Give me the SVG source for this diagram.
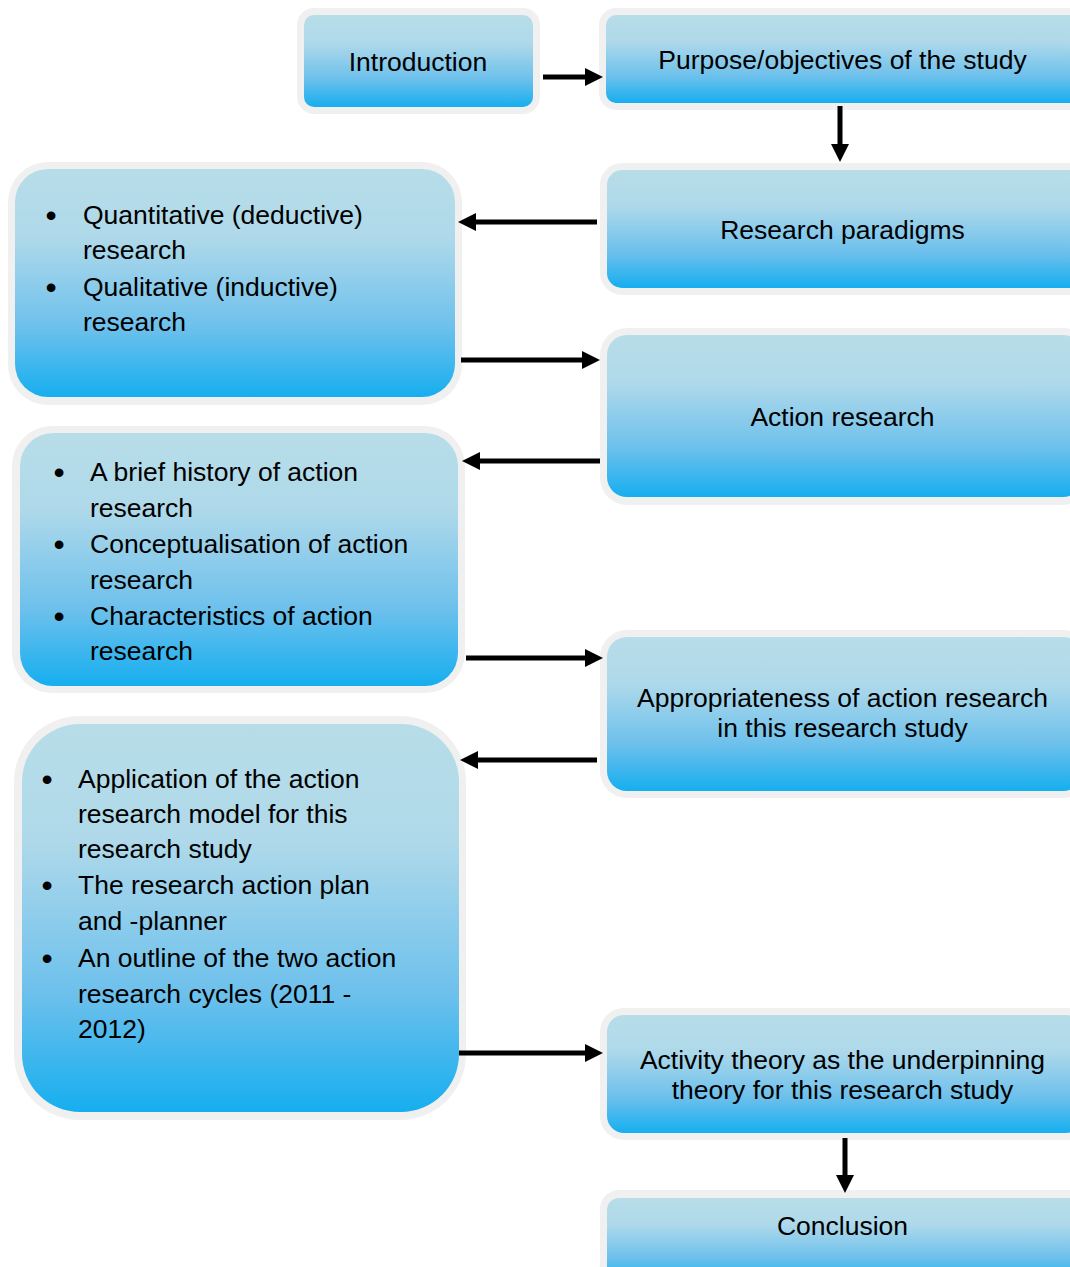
<svg xmlns="http://www.w3.org/2000/svg" width="1070" height="1267" viewBox="0 0 1070 1267">
  <defs>
    <linearGradient id="boxFill" x1="0" y1="0" x2="0" y2="1">
      <stop offset="0" stop-color="#b7dde8"/>
      <stop offset="0.3" stop-color="#afd9ea"/>
      <stop offset="0.7" stop-color="#6cc0ec"/>
      <stop offset="1" stop-color="#16aeef"/>
    </linearGradient>
    <marker id="head" viewBox="0 0 18 18" refX="1" refY="9" markerWidth="18" markerHeight="18" markerUnits="userSpaceOnUse" orient="auto">
      <path d="M0,0 L18,9 L0,18 Z" fill="#000"/>
    </marker>
  </defs>
  <style>
    .rim { fill: #f0f0f0; }
    .box { fill: url(#boxFill); }
    text { font-family: "Liberation Sans", Arial, sans-serif; font-size: 26.5px; fill: #000; }
    .c { text-anchor: middle; }
    .b { text-anchor: middle; font-size: 32px; }
    .link { stroke: #000; stroke-width: 5; fill: none; marker-end: url(#head); }
  </style>

  <rect width="1070" height="1267" fill="#fff"/>

  <!-- Introduction -->
  <g id="introduction">
    <rect class="rim" x="297" y="8" width="243" height="106" rx="17"/>
    <rect class="box" x="304" y="15" width="229" height="92" rx="10"/>
    <text class="c" x="418" y="71">Introduction</text>
  </g>

  <!-- Purpose -->
  <g id="purpose">
    <rect class="rim" x="599" y="8" width="490" height="102" rx="17"/>
    <rect class="box" x="606" y="15" width="476" height="88" rx="10"/>
    <text class="c" x="842.5" y="69">Purpose/objectives of the study</text>
  </g>

  <!-- Research paradigms -->
  <g id="paradigms">
    <rect class="rim" x="600" y="163" width="490" height="132" rx="22"/>
    <rect class="box" x="607" y="170" width="476" height="118" rx="15"/>
    <text class="c" x="842.5" y="239">Research paradigms</text>
  </g>

  <!-- Quantitative / qualitative -->
  <g id="approaches">
    <rect class="rim" x="8" y="162" width="454" height="243" rx="40"/>
    <rect class="box" x="15" y="169" width="440" height="228" rx="33"/>
    <text class="b" x="51" y="226">•</text>
    <text x="83" y="224">Quantitative (deductive)</text>
    <text x="83" y="259">research</text>
    <text class="b" x="51" y="298">•</text>
    <text x="83" y="296">Qualitative (inductive)</text>
    <text x="83" y="331">research</text>
  </g>

  <!-- Action research -->
  <g id="action-research">
    <rect class="rim" x="600" y="328" width="490" height="177" rx="27"/>
    <rect class="box" x="607" y="335" width="476" height="162" rx="20"/>
    <text class="c" x="842.5" y="426">Action research</text>
  </g>

  <!-- History, conceptualisation, characteristics -->
  <g id="background">
    <rect class="rim" x="12" y="426" width="453" height="267" rx="40"/>
    <rect class="box" x="20" y="433" width="438" height="253" rx="33"/>
    <text class="b" x="59" y="483">•</text>
    <text x="90" y="481">A brief history of action</text>
    <text x="90" y="517">research</text>
    <text class="b" x="59" y="555">•</text>
    <text x="90" y="553">Conceptualisation of action</text>
    <text x="90" y="589">research</text>
    <text class="b" x="59" y="627">•</text>
    <text x="90" y="625">Characteristics of action</text>
    <text x="90" y="660">research</text>
  </g>

  <!-- Appropriateness -->
  <g id="appropriateness">
    <rect class="rim" x="600" y="630" width="490" height="168" rx="27"/>
    <rect class="box" x="607" y="637" width="476" height="154" rx="20"/>
    <text class="c" x="842.5" y="707">Appropriateness of action research</text>
    <text class="c" x="842.5" y="737">in this research study</text>
  </g>

  <!-- Application, plan, outline -->
  <g id="application">
    <rect class="rim" x="14" y="716" width="452" height="404" rx="66"/>
    <rect class="box" x="22" y="724" width="437" height="388" rx="58"/>
    <text class="b" x="47" y="790">•</text>
    <text x="78" y="788">Application of the action</text>
    <text x="78" y="823">research model for this</text>
    <text x="78" y="858">research study</text>
    <text class="b" x="47" y="896">•</text>
    <text x="78" y="894">The research action plan</text>
    <text x="78" y="930">and -planner</text>
    <text class="b" x="47" y="969">•</text>
    <text x="78" y="967">An outline of the two action</text>
    <text x="78" y="1003">research cycles (2011 -</text>
    <text x="78" y="1038">2012)</text>
  </g>

  <!-- Activity theory -->
  <g id="activity-theory">
    <rect class="rim" x="600" y="1008" width="490" height="132" rx="24"/>
    <rect class="box" x="607" y="1015" width="476" height="118" rx="17"/>
    <text class="c" x="842.5" y="1069">Activity theory as the underpinning</text>
    <text class="c" x="842.5" y="1099">theory for this research study</text>
  </g>

  <!-- Conclusion -->
  <g id="conclusion">
    <rect class="rim" x="600" y="1190" width="490" height="100" rx="19"/>
    <rect class="box" x="607" y="1198" width="476" height="86" rx="12"/>
    <text class="c" x="842.5" y="1235">Conclusion</text>
  </g>

  <!-- connectors, drawn last so they sit over the box rims -->
  <g id="connectors">
    <line class="link" x1="543" y1="77" x2="586" y2="77"/>
    <line class="link" x1="840" y1="106" x2="840" y2="145"/>
    <line class="link" x1="597" y1="222" x2="475" y2="222"/>
    <line class="link" x1="461" y1="360" x2="583" y2="360"/>
    <line class="link" x1="600" y1="461" x2="479" y2="461"/>
    <line class="link" x1="466" y1="658" x2="586" y2="658"/>
    <line class="link" x1="597" y1="760" x2="477" y2="760"/>
    <line class="link" x1="459" y1="1053" x2="586" y2="1053"/>
    <line class="link" x1="845" y1="1138" x2="845" y2="1176"/>
  </g>
</svg>
